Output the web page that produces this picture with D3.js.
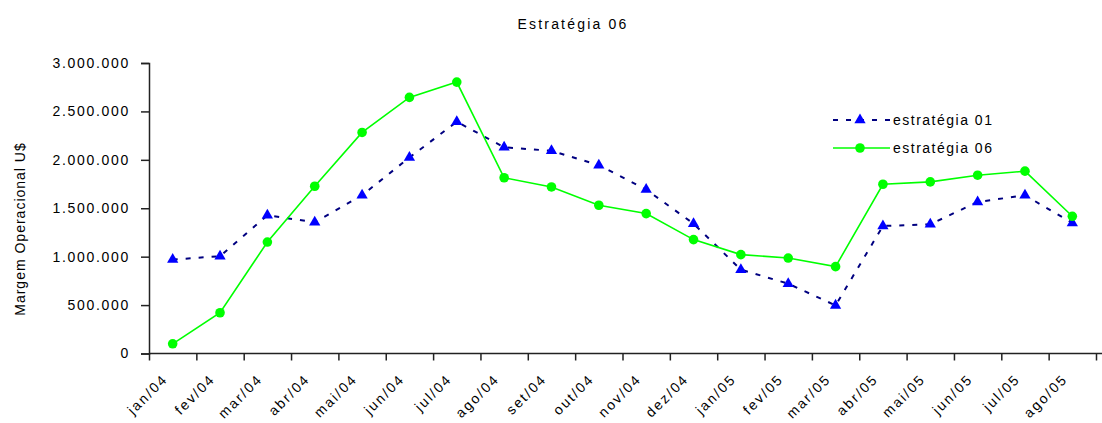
<!DOCTYPE html>
<html>
<head>
<meta charset="utf-8">
<script src="https://cdn.jsdelivr.net/npm/d3@7"></script>
<style>
  html, body { margin: 0; padding: 0; background: #fff; }
  svg { display: block; }
  text { font-family: Arial, "Liberation Sans", sans-serif; fill: #000; }
</style>
</head>
<body>
<svg id="chart" width="1102" height="423"></svg>
<script>
// Monthly categories
const months = ["jan/04","fev/04","mar/04","abr/04","mai/04","jun/04","jul/04","ago/04",
  "set/04","out/04","nov/04","dez/04","jan/05","fev/05","mar/05","abr/05","mai/05",
  "jun/05","jul/05","ago/05"];

// Operating margin (U$) per strategy
const estrategia01 = [970000, 1005000, 1428000, 1355000, 1634000, 2024000, 2393000, 2130000,
  2093000, 1945000, 1693000, 1341000, 866000, 721000, 497000, 1317000, 1334000,
  1565000, 1634000, 1348000];
const estrategia06 = [100000, 421000, 1151000, 1727000, 2283000, 2645000, 2803000, 1815000,
  1720000, 1531000, 1445000, 1176000, 1021000, 986000, 897000, 1748000, 1772000,
  1841000, 1883000, 1417000];

const yTicks = [0, 500000, 1000000, 1500000, 2000000, 2500000, 3000000];
const seriesNames = ["estratégia 01", "estratégia 06"];

const svg = d3.select("#chart");
const plotLeft = 149, plotRight = 1096, plotTop = 63, plotBottom = 353.5;

const ptBR = d3.formatLocale({decimal: ",", thousands: ".", grouping: [3], currency: ["", ""]});
const fmt = ptBR.format(",");

const x = d3.scaleBand().domain(months).range([plotLeft, plotRight]);
const xEdge = d3.scaleLinear().domain([0, months.length]).range([plotLeft, plotRight]);
const y = d3.scaleLinear().domain([0, 3000000]).range([plotBottom, plotTop]);

// Title
svg.append("text")
  .attr("x", 573).attr("y", 29)
  .attr("text-anchor", "middle")
  .style("font-size", "14px").style("letter-spacing", "2.2px")
  .text("Estratégia 06");

// Y axis
const yAxis = svg.append("g")
  .attr("transform", `translate(${plotLeft},0)`)
  .call(d3.axisLeft(y).tickValues(yTicks).tickFormat(fmt).tickSize(8).tickPadding(11));
yAxis.selectAll("text").style("font-size", "14px").style("letter-spacing", "1.7px");
yAxis.select(".domain").attr("stroke", "#222").attr("stroke-width", 1.5);
yAxis.selectAll(".tick line").attr("stroke", "#222").attr("stroke-width", 1.5);

// Y axis title
svg.append("text")
  .attr("transform", "translate(25,229) rotate(-90)")
  .attr("text-anchor", "middle")
  .style("font-size", "14px").style("letter-spacing", "1px")
  .text("Margem Operacional U$");

// X axis with ticks on category boundaries
const xAxis = svg.append("g")
  .attr("transform", `translate(0,${plotBottom})`)
  .call(d3.axisBottom(xEdge).tickValues(d3.range(0, months.length + 1)).tickFormat("").tickSize(7).tickSizeOuter(0));
xAxis.select(".domain").attr("stroke", "#222").attr("stroke-width", 1.5)
  .attr("d", `M${plotLeft},0H1102`);
xAxis.selectAll(".tick line").attr("stroke", "#222").attr("stroke-width", 1.5);

// Rotated month labels
svg.append("g").selectAll("text")
  .data(months)
  .join("text")
  .attr("transform", d => `translate(${x(d) + x.bandwidth() / 2 - 4},380) rotate(-45)`)
  .attr("text-anchor", "end")
  .style("font-size", "14px").style("letter-spacing", "2px")
  .text(d => d);

const cx = (d, i) => x(months[i]) + x.bandwidth() / 2;
const line = d3.line().x((d, i) => cx(d, i)).y(d => y(d));

// Strategy 01: dashed navy line with blue triangles
svg.append("path")
  .datum(estrategia01)
  .attr("fill", "none").attr("stroke", "#000080").attr("stroke-width", 2)
  .attr("stroke-dasharray", "5,8")
  .attr("d", line);
const tri = d3.symbol(d3.symbolTriangle).size(55);
svg.append("g").selectAll("path")
  .data(estrategia01)
  .join("path")
  .attr("d", tri)
  .attr("transform", (d, i) => `translate(${cx(d, i)},${y(d)})`)
  .attr("fill", "#0000ff");

// Strategy 06: solid green line with circles
svg.append("path")
  .datum(estrategia06)
  .attr("fill", "none").attr("stroke", "#00ff00").attr("stroke-width", 1.6)
  .attr("d", line);
svg.append("g").selectAll("circle")
  .data(estrategia06)
  .join("circle")
  .attr("cx", (d, i) => cx(d, i)).attr("cy", d => y(d))
  .attr("r", 4.8)
  .attr("fill", "#00ff00");

// Legend
const legend = svg.append("g");
const legendRows = [
  {name: seriesNames[0], y: 120, color: "#000080", marker: "#0000ff", dash: "5,8", width: 2, shape: "tri"},
  {name: seriesNames[1], y: 148, color: "#00ff00", marker: "#00ff00", dash: null, width: 1.6, shape: "circle"}
];
legendRows.forEach(r => {
  legend.append("line")
    .attr("x1", 833).attr("x2", 890).attr("y1", r.y).attr("y2", r.y)
    .attr("stroke", r.color).attr("stroke-width", r.width)
    .attr("stroke-dasharray", r.dash);
  if (r.shape === "tri") {
    legend.append("path").attr("d", tri).attr("transform", `translate(860,${r.y})`).attr("fill", r.marker);
  } else {
    legend.append("circle").attr("cx", 860).attr("cy", r.y).attr("r", 4.8).attr("fill", r.marker);
  }
  legend.append("text")
    .attr("x", 893).attr("y", r.y + 5)
    .style("font-size", "14px").style("letter-spacing", "1.5px")
    .text(r.name);
});
</script>
</body>
</html>
